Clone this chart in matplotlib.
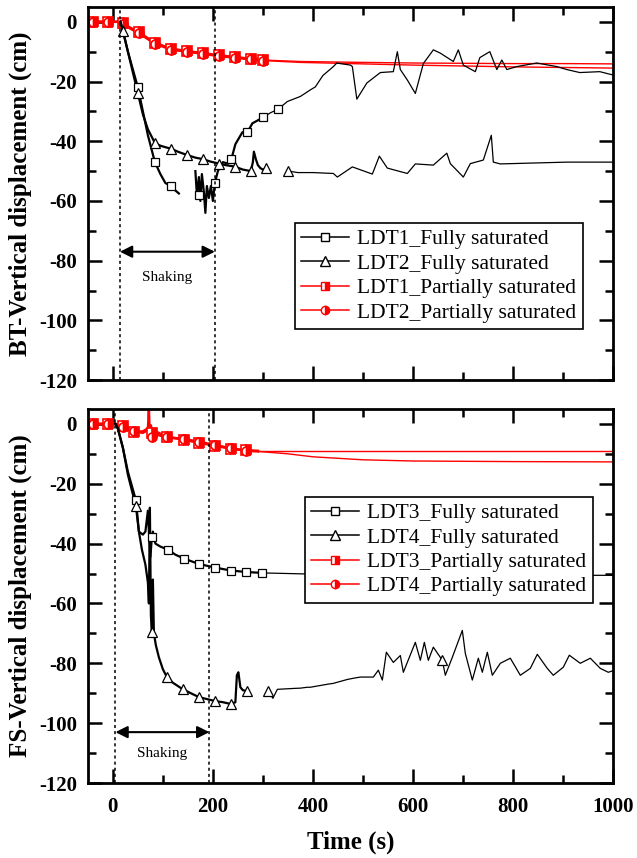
import numpy as np
import matplotlib
matplotlib.use('Agg')
import matplotlib.pyplot as plt
from matplotlib.lines import Line2D
from matplotlib.ticker import MultipleLocator

plt.rcParams['font.family'] = ['Liberation Serif', 'DejaVu Serif']
plt.rcParams['axes.unicode_minus'] = False

nan = np.nan

# ---- top panel (BT) ----
t_ldt1_fs = [15, 20, 30, 40, 50, 60, 70, 84, 95, 105, 116, 125, 132, 140, 165, 168, 172, 175, 178, 182,
             185, 188, 192, 196, 200, 204, 210, 220, 230, 237, 245, 259, 269, 279, 290, 300, 315, 331,
             349, 375, 395, 405, 420, 441, 448, 455, 475, 479, 488, 508, 535, 561, 569, 575, 589, 605,
             621, 641, 655, 681, 691, 701, 725, 734, 754, 768, 778, 788, 808, 848, 888, 908, 934, 974, 1000]
d_ldt1_fs = [0, -3, -10, -16, -22, -30, -38, -47, -51, -54, -55, -56.5, -57.5, nan, -50, -58, -52, -60, -51, -57,
             -64, -55, -59, -55, -60, -54, -50, -47, -47.5, -46, -41, -37, -37, -34, -33, -32, -30.5, -29.2,
             -26.7, -25, -22.8, -21.8, -18, -15, -13.8, -14, -14.5, -15, -25.9, -20.5, -17, -16.7, -10, -16, -19.5, -24,
             -14, -9.4, -10.5, -13.3, -9.4, -14.5, -16.7, -12, -10, -16, -12.8, -16, -15, -13.8, -15, -16, -17, -16.7, -17.8]
t_ldt1_fs_mk = [50, 84, 116, 172, 204, 237, 269, 300, 331]
d_ldt1_fs_mk = [-22, -47, -55, -58, -54, -46, -37, -32, -29.2]

t_ldt2_fs = [15, 20, 30, 40, 50, 60, 70, 84, 95, 105, 116, 130, 148, 165, 180, 195, 212, 225, 244, 260,
             276, 280, 282, 286, 290, 295, 300, 307, 320, 351, 370, 400, 441, 449, 479, 519, 533, 549, 589,
             605, 641, 668, 675, 701, 715, 741, 757, 761, 775, 841, 908, 1000]
d_ldt2_fs = [0, -3, -10, -17, -24, -31, -36, -40.6, -41.5, -42, -42.5, -43.5, -44.6, -45.5, -46, -46.8, -47.5, -48, -48.5, -49.5,
             -50, -47, -43.5, -46, -48, -49, -49.5, -49, nan, -50, -50.5, -50.5, -50.8, -52, -48.6, -51, -45, -49, -50.8,
             -47.6, -48, -44, -47.5, -52, -47.5, -46.3, -38, -47, -47.6, -47.3, -47, -47]
t_ldt2_fs_mk = [20, 50, 84, 116, 148, 180, 212, 244, 276, 307, 351]
d_ldt2_fs_mk = [-3, -24, -40.6, -42.5, -44.6, -46, -47.5, -48.5, -50, -49, -50]

t_bt_ps = [-50, -40, -10, 15, 20, 35, 52, 70, 84, 100, 116, 148, 180, 212, 244, 276, 300, 375, 500, 600, 700, 800, 900, 1000]
d_ldt1_ps = [0, 0, 0, 0, -0.5, -2, -3.5, -5.5, -7, -8, -9, -9.8, -10.5, -11.2, -11.8, -12.4, -12.8, -13.3, -13.6, -13.8, -13.9, -14, -14, -14.1]
d_ldt2_ps = [0, 0, 0, 0, -0.8, -2.3, -3.8, -5.8, -7.3, -8.3, -9.3, -10, -10.7, -11.5, -12, -12.6, -13, -13.6, -14.1, -14.5, -14.8, -15.1, -15.3, -15.5]
t_bt_ps_mk = [-40, -10, 20, 52, 84, 116, 148, 180, 212, 244, 276, 300]
d_ldt1_ps_mk = [0, 0, -0.5, -3.5, -7, -9, -9.8, -10.5, -11.2, -11.8, -12.4, -12.8]
d_ldt2_ps_mk = [0, 0, -0.8, -3.8, -7.3, -9.3, -10, -10.7, -11.5, -12, -12.6, -13]

# ---- bottom panel (FS) ----
t_ldt3_fs = [5, 10, 20, 30, 46, 52, 60, 65, 70, 72, 75, 78, 80, 85, 95, 110, 125, 142, 172, 204, 236, 267, 299,
             350, 400, 500, 600, 700, 800, 900, 1000]
d_ldt3_fs = [0, -1.7, -8, -16, -25.5, -36, -37, -36, -29, -36, -44.5, -37.7, -36, -40, -41, -42, -43.7, -45, -46.8, -48, -49, -49.5, -49.8,
             -50, -50.2, -50.5, -50.6, -50.6, -50.6, -50.6, -50.6]
t_ldt3_fs_mk = [46, 78, 110, 142, 172, 204, 236, 267, 299]
d_ldt3_fs_mk = [-25.5, -37.7, -42, -45, -46.8, -48, -49, -49.5, -49.8]

t_ldt4_fs = [5, 10, 20, 30, 46, 52, 58, 65, 70, 72, 74, 76, 78, 80, 82, 86, 92, 100, 108, 120, 140, 172, 204, 220,
             236, 245, 248, 251, 255, 260, 269, 290, 311, 320, 329, 361, 375, 389, 395, 429, 441, 469, 481, 495, 521,
             531, 539, 547, 561, 575, 581, 605, 615, 623, 631, 641, 659, 665, 679, 699, 705, 719, 731, 739, 749, 759,
             775, 795, 815, 835, 849, 869, 881, 901, 913, 935, 955, 975, 991, 1000]
d_ldt4_fs = [0, -1.5, -8, -17, -27.5, -36, -42, -47, -53, -60, -28, -64, -69.6, -52, -70, -74, -78, -82, -84.6, -86.5, -88.7, -91.3, -92.6, -93,
             -93.6, -93, -84, -83, -88, -89, -89.3, nan, -89.3, -91.7, -88.7, -88.4, -88.3, -88, -88, -87, -86.7, -85.4, -85, -84.6, -84.6,
             -82.3, -85.6, -76.3, -79.7, -77.4, -83, -73, -79, -73, -79, -74.6, -79, -84, -78, -69, -76.7, -85.6, -78.3, -83, -76.3, -84,
             -80, -78.3, -84, -81.7, -77, -81.7, -84, -81.3, -77.3, -80, -78.3, -81.7, -83, -82.5]
t_ldt4_fs_mk = [46, 78, 108, 140, 172, 204, 236, 269, 311, 659]
d_ldt4_fs_mk = [-27.5, -69.6, -84.6, -88.7, -91.3, -92.6, -93.6, -89.3, -89.3, -79]

t_fs_ps = [-50, -40, -10, 5, 20, 42, 60, 70, 72, 74, 76, 78, 85, 108, 142, 172, 204, 236, 267, 290, 350, 400, 500, 600, 800, 1000]
d_ldt3_ps = [0, 0, 0, 0, -0.8, -2.7, -2.5, -1.5, -1, -2, -1.5, -3, -2.5, -4.3, -5.3, -6.3, -7.3, -8.3, -8.8, -9, -9, -9, -9, -9, -9, -9]
d_ldt4_ps = [0, 0, 0, 0, -1, -2.5, -3, -2, 4.5, -5, -0.5, -4.5, -3.5, -4.5, -5, -6, -7, -8.2, -9, -9.2, -10, -11, -12, -12.4, -12.6, -12.7]
t_fs_ps_mk = [-40, -10, 20, 42, 78, 108, 142, 172, 204, 236, 267]
d_ldt3_ps_mk = [0, 0, -0.8, -2.7, -3, -4.3, -5.3, -6.3, -7.3, -8.3, -8.8]
d_ldt4_ps_mk = [0, 0, -1, -2.5, -4.5, -4.5, -5, -6, -7, -8.2, -9]

shake_bt = (14, 204)
shake_fs = (5, 193)

fig = plt.figure(figsize=(6.37, 8.58), dpi=100)
ax1 = fig.add_axes([0.138, 0.557, 0.824, 0.435])
ax2 = fig.add_axes([0.138, 0.0874, 0.824, 0.436])

mk_sq = dict(ls='none', marker='s', ms=6, mfc='white', mec='black', mew=0.9)
mk_tr = dict(ls='none', marker='^', ms=7.5, mfc='white', mec='black', mew=0.9)
mk_rsq = dict(ls='none', marker='s', ms=6.5, mec='red', mfc='red', fillstyle='right', markerfacecoloralt='white', mew=1.2)
mk_rci = dict(ls='none', marker='o', ms=6.5, mec='red', mfc='red', fillstyle='right', markerfacecoloralt='white', mew=1.2)


def black_line(ax, t, d):
    t = np.asarray(t, float)
    d = np.asarray(d, float)
    early = t <= 310
    ax.plot(t[early], d[early], color='black', lw=1.6)
    late = t >= t[early][-1]
    ax.plot(t[late], d[late], color='black', lw=0.9)


def red_line(ax, t, d):
    t = np.asarray(t, float)
    d = np.asarray(d, float)
    early = t <= 300
    ax.plot(t[early], d[early], color='red', lw=1.8)
    late = t >= t[early][-1]
    ax.plot(t[late], d[late], color='red', lw=1.0)


def draw(ax, t1, d1, t1m, d1m, t2, d2, t2m, d2m, tp, dp1, dp2, tpm, dp1m, dp2m):
    red_line(ax, tp, dp1)
    red_line(ax, tp, dp2)
    ax.plot(tpm, dp1m, **mk_rsq)
    ax.plot(tpm, dp2m, **mk_rci)
    black_line(ax, t1, d1)
    black_line(ax, t2, d2)
    ax.plot(t1m, d1m, **mk_sq)
    ax.plot(t2m, d2m, **mk_tr)


draw(ax1, t_ldt1_fs, d_ldt1_fs, t_ldt1_fs_mk, d_ldt1_fs_mk, t_ldt2_fs, d_ldt2_fs, t_ldt2_fs_mk, d_ldt2_fs_mk,
     t_bt_ps, d_ldt1_ps, d_ldt2_ps, t_bt_ps_mk, d_ldt1_ps_mk, d_ldt2_ps_mk)
draw(ax2, t_ldt3_fs, d_ldt3_fs, t_ldt3_fs_mk, d_ldt3_fs_mk, t_ldt4_fs, d_ldt4_fs, t_ldt4_fs_mk, d_ldt4_fs_mk,
     t_fs_ps, d_ldt3_ps, d_ldt4_ps, t_fs_ps_mk, d_ldt3_ps_mk, d_ldt4_ps_mk)

for ax, sh, ya, yt, names, lx, ly in [(ax1, shake_bt, -77, -85.5, ('LDT1', 'LDT2'), 0.394, 0.421),
                                      (ax2, shake_fs, -103, -110, ('LDT3', 'LDT4'), 0.413, 0.765)]:
    for x in sh:
        ax.axvline(x, color='black', lw=1.1, ls=(0, (2, 2)))
    ax.annotate('', xy=(sh[0], ya), xytext=(sh[1], ya),
                arrowprops=dict(arrowstyle='<|-|>', color='black', lw=1.5, mutation_scale=18, shrinkA=0, shrinkB=0))
    ax.text((sh[0] + sh[1]) / 2, yt, 'Shaking', ha='center', va='center', fontsize=11)
    ax.set_xlim(-50, 1000)
    ax.set_ylim(-120, 5)
    ax.xaxis.set_major_locator(MultipleLocator(200))
    ax.xaxis.set_minor_locator(MultipleLocator(100))
    ax.yaxis.set_major_locator(MultipleLocator(20))
    ax.yaxis.set_minor_locator(MultipleLocator(10))
    ax.tick_params(which='both', direction='in', top=True, right=True, width=1.8, labelsize=15)
    ax.tick_params(axis='x', pad=10)
    ax.tick_params(axis='y', pad=8)
    ax.tick_params(which='major', length=10)
    ax.tick_params(which='minor', length=6)
    for lab in ax.get_xticklabels() + ax.get_yticklabels():
        lab.set_fontweight('bold')
    for s in ax.spines.values():
        s.set_linewidth(2)
    handles = [
        Line2D([], [], color='black', lw=1.1, marker='s', ms=6, mfc='white', mec='black'),
        Line2D([], [], color='black', lw=1.1, marker='^', ms=7, mfc='white', mec='black'),
        Line2D([], [], color='red', lw=1.1, marker='s', ms=6, mfc='red', mec='red', fillstyle='right', markerfacecoloralt='white'),
        Line2D([], [], color='red', lw=1.1, marker='o', ms=6, mfc='red', mec='red', fillstyle='right', markerfacecoloralt='white'),
    ]
    labels = [names[0] + '_Fully saturated', names[1] + '_Fully saturated',
              names[0] + '_Partially saturated', names[1] + '_Partially saturated']
    leg = ax.legend(handles, labels, loc='upper left', bbox_to_anchor=(lx, ly), fontsize=15.5, frameon=True,
                    fancybox=False, edgecolor='black', framealpha=1, handlelength=2.2, borderpad=0.3,
                    labelspacing=0.2, handletextpad=0.4, borderaxespad=0)
    leg.get_frame().set_linewidth(1.2)

ax1.tick_params(labelbottom=False)
ax1.set_ylabel('BT-Vertical displacement (cm)', fontsize=18, fontweight='bold')
ax2.set_ylabel('FS-Vertical displacement (cm)', fontsize=18, fontweight='bold')
ax1.yaxis.set_label_coords(-0.107, 0.5)
ax2.yaxis.set_label_coords(-0.107, 0.5)
ax2.set_xlabel('Time (s)', fontsize=18, fontweight='bold')
ax2.xaxis.set_label_coords(0.5, -0.128)

fig.savefig('out.png', dpi=100)
